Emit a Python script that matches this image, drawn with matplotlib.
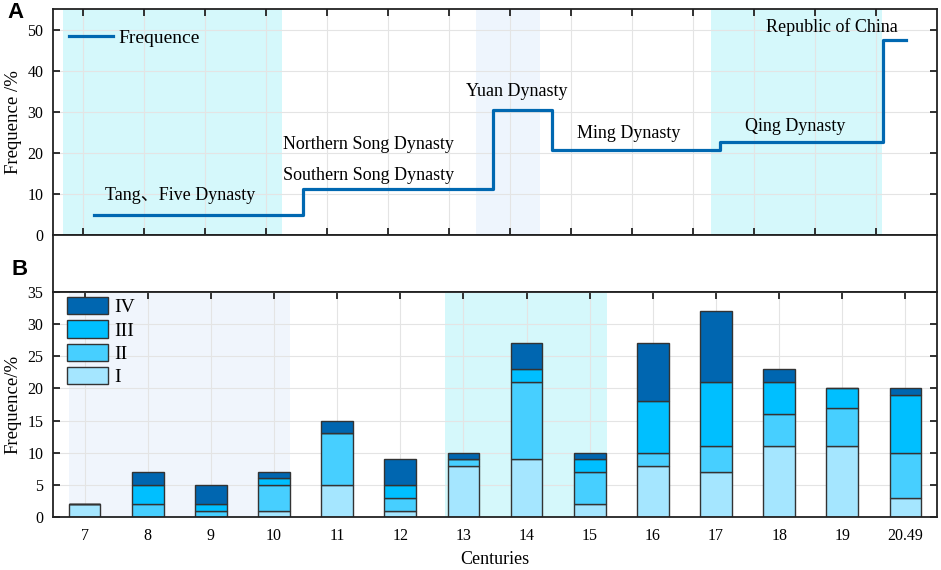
import numpy as np
import matplotlib
matplotlib.use('Agg')
import matplotlib.pyplot as plt
from matplotlib.patches import Patch

plt.rcParams['font.family'] = ['Liberation Serif', 'Noto Sans CJK SC']

#-----------------------------------------------------------------------------------------------
# Panel A data: dynasty start years and frequence (%)

years = [618, 960, 1271, 1368, 1644, 1912, 1949]
freq = [4.9, 11.3, 30.5, 20.8, 22.7, 47.4]

dynasty_names = ['Tang\u3001Five Dynasty', 'Northern Song Dynasty', 'Southern Song Dynasty',
                 'Yuan Dynasty', 'Ming Dynasty', 'Qing Dynasty', 'Republic of China']
name_x = [7.36, 10.28, 10.28, 13.27, 15.09, 17.85, 18.2]
name_y = [8.5, 20.9, 13.5, 33.9, 23.7, 25.3, 49.3]

# shaded periods in panel A (century units)
spans_a = [(6.67, 10.26), (13.44, 14.49), (17.29, 20.09)]
span_cols_a = ['#d5f8fb', '#eef5fd', '#d5f8fb']

#-----------------------------------------------------------------------------------------------
# Panel B data: stacked frequence per century

centuries = ['7', '8', '9', '10', '11', '12', '13', '14', '15', '16', '17', '18', '19', '20.49']
lev1 = [2, 0, 0, 1, 5, 1, 8, 9, 2, 8, 7, 11, 11, 3]
lev2 = [0, 2, 1, 4, 8, 2, 1, 12, 5, 2, 4, 5, 6, 7]
lev3 = [0, 3, 1, 1, 0, 2, 0, 2, 2, 8, 10, 5, 3, 9]
lev4 = [0, 2, 3, 1, 2, 4, 1, 4, 1, 9, 11, 2, 0, 1]
levels = ['I', 'II', 'III', 'IV']
colors = ['#a5e6ff', '#47cfff', '#00bfff', '#0066b0']

spans_b = [(-0.25, 3.26), (5.71, 8.27)]
span_cols_b = ['#f0f5fc', '#d5f8fb']

#-----------------------------------------------------------------------------------------------

fig = plt.figure(figsize=(9.41, 5.70), dpi=100)
L, W = 53 / 941, 884 / 941
axA = fig.add_axes([L, 1 - 235 / 570, W, 226 / 570])
axM = fig.add_axes([L, 1 - 292 / 570, W, 57 / 570])
axB = fig.add_axes([L, 1 - 517 / 570, W, 225 / 570])

def style(ax):
    for s in ax.spines.values():
        s.set_linewidth(1.3)
        s.set_color('#222222')
    ax.tick_params(direction='in', length=5, width=1.3, top=True, right=True,
                   labelsize=11.5, pad=7, color='#222222')
    ax.grid(True, color='#e4e4e4', linewidth=0.8)
    ax.set_axisbelow(True)

# Panel A
style(axA)
for (a, b), c in zip(spans_a, span_cols_a):
    axA.axvspan(a, b, color=c, lw=0, zorder=0)
xs = np.array(years) / 100 + 1
axA.step(xs, freq + [freq[-1]], where='post', color='#0068b1', lw=2.3, label='Frequence')
for t, x, y in zip(dynasty_names, name_x, name_y):
    axA.text(x, y, t, fontsize=13, va='baseline', ha='left')
axA.set_xlim(6.5, 21)
axA.set_ylim(0, 55)
axA.set_xticks(range(7, 21))
axA.set_xticklabels([])
axA.set_yticks(range(0, 51, 10))
axA.set_ylabel('Frequence /%', fontsize=13.5, labelpad=4)
axA.legend(loc='upper left', bbox_to_anchor=(0.0136, 0.928), frameon=False, fontsize=14,
           handlelength=2.26, borderaxespad=0, borderpad=0.2, handletextpad=0.3)

# middle blank box
for s in axM.spines.values():
    s.set_linewidth(1.3)
    s.set_color('#222222')
axM.set_xticks([])
axM.set_yticks([])

fig.text(15 / 941, 1 - 12 / 570, 'A', fontsize=16, fontweight='bold',
         family='Liberation Sans', ha='center', va='center')
fig.text(20 / 941, 1 - 270 / 570, 'B', fontsize=16, fontweight='bold',
         family='Liberation Sans', ha='center', va='center')

# Panel B
style(axB)
for (a, b), c in zip(spans_b, span_cols_b):
    axB.axvspan(a, b, color=c, lw=0, zorder=0)
pos = np.arange(len(centuries))
bottom = np.zeros(len(centuries))
handles = []
for vals, c, name in zip([lev1, lev2, lev3, lev4], colors, levels):
    axB.bar(pos, vals, 0.5, bottom=bottom, color=c, edgecolor='#333333', linewidth=1.0, zorder=2)
    bottom += np.array(vals)
    handles.append(Patch(facecolor=c, edgecolor='#333333', linewidth=1.0, label=name))
axB.set_xlim(-0.5, 13.5)
axB.set_ylim(0, 35)
axB.set_xticks(pos)
axB.set_xticklabels(centuries)
axB.set_yticks(range(0, 36, 5))
axB.tick_params(axis='x', pad=8)
axB.set_ylabel('Frequence/%', fontsize=13.5, labelpad=4)
axB.set_xlabel('Centuries', fontsize=13, labelpad=5)
axB.legend(handles=handles[::-1], loc='upper left', bbox_to_anchor=(0.0113, 0.994),
           frameon=False, fontsize=14, handlelength=2.1, handleheight=0.98,
           labelspacing=0.2, borderaxespad=0, borderpad=0.2, handletextpad=0.36)

fig.savefig('out.png', dpi=100)
